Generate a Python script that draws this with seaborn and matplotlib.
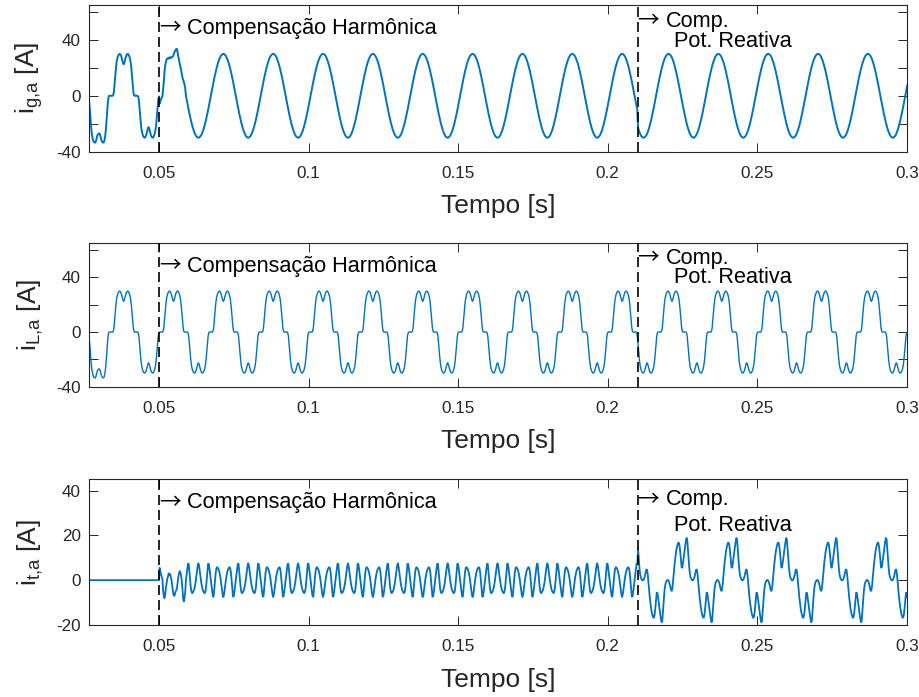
import numpy as np
import pandas as pd
import matplotlib
matplotlib.use("Agg")
import matplotlib.pyplot as plt
import seaborn as sns

# ---------------- data (5 degree steps of a 60 Hz period) ----------------
f_grid = 60.0             # Hz
step_deg = 5.0            # sampling step inside one period
t_zero = 0.034            # rising zero crossing of the load current [s]
t_harm = 0.05             # start of harmonic compensation
t_reac = 0.21             # start of reactive power compensation
n_periods = 17

# load current, one period (0..355 deg)
iL_period = [0, 0, 0, 0.5, 3, 9, 15, 20.5, 24.5, 27, 28.5, 29.5,
             30, 29.8, 29, 27.5, 25.5, 23.5, 22.5, 23.5, 25.5, 27.5, 29, 29.8,
             30, 29.5, 28.5, 27, 24.5, 20.5, 15, 9, 3, 0.5, 0, 0,
             0, 0, 0, -0.5, -3, -9, -15, -20.5, -24.5, -27, -28.5, -29.5,
             -30, -29.8, -29, -27.5, -25.5, -23.5, -22.5, -23.5, -25.5, -27.5, -29, -29.8,
             -30, -29.5, -28.5, -27, -24.5, -20.5, -15, -9, -3, -0.5, 0, 0]
# first (start-up) negative half period of the load current (180..355 deg)
iL_first_neg = [0, 0, 0, -0.5, -3, -9, -16, -22, -27, -30, -32, -33,
                -33.5, -33.5, -32.5, -30.5, -28.5, -27.5, -27, -27, -28, -30, -32, -33,
                -33.5, -33.5, -32.5, -30, -26, -20, -13, -6, -1.5, 0, 0, 0]

# grid current during harmonic compensation, one period
ig_harm_period = [0, 2.6, 5.2, 7.8, 10.3, 12.7, 15, 17.2, 19.3, 21.2, 23, 24.6,
                  26, 27.2, 28.2, 29, 29.5, 29.9, 30, 29.9, 29.5, 29, 28.2, 27.2,
                  26, 24.6, 23, 21.2, 19.3, 17.2, 15, 12.7, 10.3, 7.8, 5.2, 2.6,
                  0, -2.6, -5.2, -7.8, -10.3, -12.7, -15, -17.2, -19.3, -21.2, -23, -24.6,
                  -26, -27.2, -28.2, -29, -29.5, -29.9, -30, -29.9, -29.5, -29, -28.2, -27.2,
                  -26, -24.6, -23, -21.2, -19.3, -17.2, -15, -12.7, -10.3, -7.8, -5.2, -2.6]
# grid current during reactive compensation, one period
ig_reac_period = [12.7, 15, 17.2, 19.3, 21.2, 23, 24.6, 26, 27.2, 28.2, 29, 29.5,
                  29.9, 30, 29.9, 29.5, 29, 28.2, 27.2, 26, 24.6, 23, 21.2, 19.3,
                  17.2, 15, 12.7, 10.3, 7.8, 5.2, 2.6, 0, -2.6, -5.2, -7.8, -10.3,
                  -12.7, -15, -17.2, -19.3, -21.2, -23, -24.6, -26, -27.2, -28.2, -29, -29.5,
                  -29.9, -30, -29.9, -29.5, -29, -28.2, -27.2, -26, -24.6, -23, -21.2, -19.3,
                  -17.2, -15, -12.7, -10.3, -7.8, -5.2, -2.6, 0, 2.6, 5.2, 7.8, 10.3]
# grid current transient right after 0.05 s (350, 355, 0..175 deg)
ig_transient = [-5.5, -4, -2.5, -1.5, -0.5, 5, 10, 17, 21.5, 24, 26, 26.5,
                27, 26.5, 27.5, 27, 27.5, 27.2, 27.8, 28, 29, 30.5, 32, 32.5,
                33.5, 33.5, 31, 28, 25.5, 23, 21, 18.5, 15.5, 13, 11.3, 10, 8, 5]

# filter current during harmonic compensation, one period
it_harm_period = [0, -2.6, -5.2, -7.3, -7.3, -3.7, 0, 3.3, 5.2, 5.8, 5.5, 4.9,
                  4, 2.6, 0.8, -1.5, -4, -6.4, -7.5, -6.4, -4, -1.5, 0.8, 2.6,
                  4, 4.9, 5.5, 5.8, 5.2, 3.3, 0, -3.7, -7.3, -7.3, -5.2, -2.6,
                  0, 2.6, 5.2, 7.3, 7.3, 3.7, 0, -3.3, -5.2, -5.8, -5.5, -4.9,
                  -4, -2.6, -0.8, 1.5, 4, 6.4, 7.5, 6.4, 4, 1.5, -0.8, -2.6,
                  -4, -4.9, -5.5, -5.8, -5.2, -3.3, 0, 3.7, 7.3, 7.3, 5.2, 2.6]
# filter current during reactive compensation, one period
it_reac_period = [-12.7, -15, -17.2, -18.8, -18.2, -14, -9.6, -5.5, -2.7, -1.2, -0.5, 0,
                  0.1, -0.2, -0.9, -2, -3.5, -4.7, -4.7, -2.5, 0.9, 4.5, 7.8, 10.5,
                  12.8, 14.5, 15.8, 16.7, 16.7, 15.3, 12.4, 9, 5.6, 5.7, 7.8, 10.3,
                  12.7, 15, 17.2, 18.8, 18.2, 14, 9.6, 5.5, 2.7, 1.2, 0.5, 0,
                  -0.1, 0.2, 0.9, 2, 3.5, 4.7, 4.7, 2.5, -0.9, -4.5, -7.8, -10.5,
                  -12.8, -14.5, -15.8, -16.7, -16.7, -15.3, -12.4, -9, -5.6, -5.7, -7.8, -10.3]
# filter current transient right after 0.05 s (350, 355, 0..175 deg)
it_transient = [5.5, 4, 2.5, 1.5, 0.5, -4.5, -7, -8, -6.5, -3.5, -1.5, 0.5,
                1.5, 3, 2.5, 2.8, 1.5, 0.3, -2.3, -4.5, -6.5, -7, -6.5, -5,
                -4.5, -3.7, -1, 1.5, 3, 4, 3.5, 2, -0.5, -4, -8.3, -9.5, -8, -5]

# annotation texts
txt_harm = "Compensação Harmônica"
txt_comp = "Comp."
txt_reac = "Pot. Reativa"

# ---------------- assemble series ----------------
n_per = int(round(360 / step_deg))
dt = 1.0 / (f_grid * n_per)
t = (t_zero - 1.0 / f_grid) + np.arange(n_per * n_periods) * dt

iL = np.concatenate([iL_period[:n_per // 2], iL_first_neg,
                     np.tile(iL_period, n_periods - 1)])
pre = t < t_harm - 1e-9
reac = t >= t_reac
ig = np.where(pre, iL, np.where(reac, np.tile(ig_reac_period, n_periods),
                                np.tile(ig_harm_period, n_periods)))
it = np.where(pre, 0.0, np.where(reac, np.tile(it_reac_period, n_periods),
                                 np.tile(it_harm_period, n_periods)))
i0 = int(np.argmax(~pre))
ig[i0:i0 + len(ig_transient)] = ig_transient
it[i0:i0 + len(it_transient)] = it_transient

df = pd.DataFrame({"t": t, "ig": ig, "iL": iL, "it": it})

# ---------------- style ----------------
sns.set_theme(style="ticks")
plt.rcParams["font.family"] = ["Liberation Sans", "DejaVu Sans"]
plt.rcParams["mathtext.fontset"] = "custom"
plt.rcParams["mathtext.rm"] = "Liberation Sans"
plt.rcParams["mathtext.it"] = "Liberation Sans"
plt.rcParams["mathtext.bf"] = "Liberation Sans:bold"

blue = "#0072BD"
dark = "#262626"

fig = plt.figure(figsize=(9.2, 6.97), dpi=100)
left, width = 0.0971, 0.8885
positions = [(left, 0.7824, width, 0.2105),
             (left, 0.4452, width, 0.2057),
             (left, 0.1033, width, 0.2090)]

panels = [
    ("ig", r"i$_{\rm g{,}a}$ [A]", (-40, 65), [-40, -20, 0, 20, 40, 60],
     ["-40", "", "0", "", "40", ""], 1.4, (48.5, 53.5, 38.5)),
    ("iL", r"i$_{\rm L{,}a}$ [A]", (-40, 65), [-40, -20, 0, 20, 40, 60],
     ["-40", "", "0", "", "40", ""], 1.0, (48.2, 54.0, 40.0)),
    ("it", r"i$_{\rm t{,}a}$ [A]", (-20, 45), [-20, 0, 20, 40],
     ["-20", "0", "20", "40"], 1.3, (34.5, 35.8, 24.2)),
]

xticks = [0.05, 0.1, 0.15, 0.2, 0.25, 0.3]
xticklabels = ["0.05", "0.1", "0.15", "0.2", "0.25", "0.3"]

arrow_font = ["Noto Sans CJK JP", "DejaVu Sans"]

for pos, (col, ylab, ylim, yt, ytl, lw, ytxt) in zip(positions, panels):
    ax = fig.add_axes(pos)
    sns.lineplot(data=df, x="t", y=col, ax=ax, color=blue, linewidth=lw,
                 estimator=None, sort=False)
    ax.set_xlim(0.0267, 0.3)
    ax.set_ylim(*ylim)
    ax.set_xticks(xticks)
    ax.set_xticklabels(xticklabels)
    ax.set_yticks(yt)
    ax.set_yticklabels(ytl)
    ax.tick_params(axis="both", direction="in", top=True, right=True,
                   length=6.5, width=0.7, colors=dark, labelsize=12.3)
    ax.tick_params(axis="x", pad=10)
    ax.tick_params(axis="y", pad=6)
    for s in ax.spines.values():
        s.set_visible(True)
        s.set_color(dark)
        s.set_linewidth(0.8)
    ax.set_xlabel("Tempo [s]", fontsize=19, color=dark, labelpad=10)
    ax.set_ylabel(ylab, fontsize=19, color=dark, labelpad=8)
    for xv in (t_harm, t_reac):
        ax.axvline(xv, color="black", linewidth=1.2, linestyle=(0, (6, 3)), zorder=3)
    # arrows (thin, long) + labels
    ax.text(t_harm, ytxt[0], "\u2192", fontsize=15.6, family=arrow_font,
            color="black", ha="left", va="center")
    ax.text(0.0594, ytxt[0], txt_harm, fontsize=15.6,
            color="black", ha="left", va="center")
    ax.text(t_reac, ytxt[1], "\u2192", fontsize=15.6, family=arrow_font,
            color="black", ha="left", va="center")
    ax.text(0.2194, ytxt[1], txt_comp, fontsize=15.6,
            color="black", ha="left", va="center")
    ax.text(0.2222, ytxt[2], txt_reac, fontsize=15.6,
            color="black", ha="left", va="center")

fig.savefig("out.png", dpi=100)
